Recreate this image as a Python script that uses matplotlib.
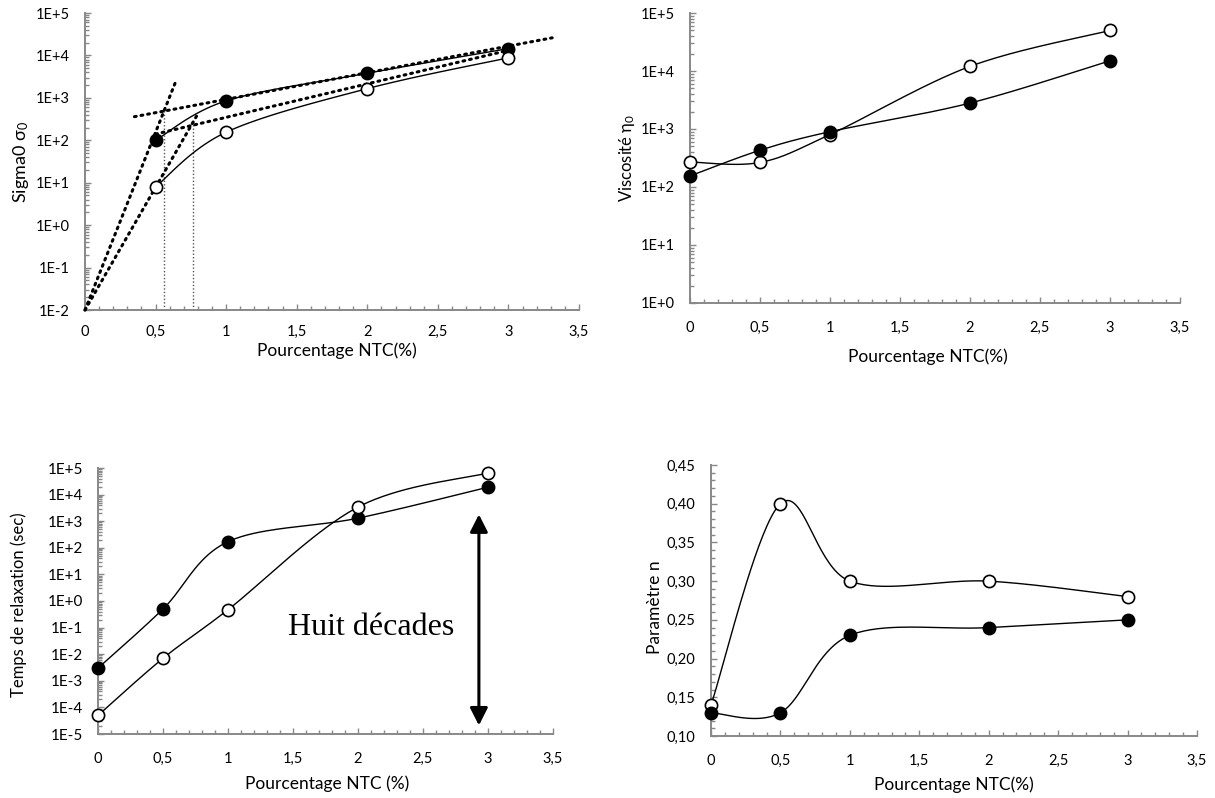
import numpy as np
import matplotlib
matplotlib.use("Agg")
import matplotlib.pyplot as plt
from matplotlib.ticker import FixedLocator, MultipleLocator, LogLocator, NullFormatter

plt.rcParams['font.family'] = ['Lato', 'DejaVu Sans']
plt.rcParams['mathtext.fontset'] = 'custom'
plt.rcParams['mathtext.rm'] = 'Lato'
plt.rcParams['mathtext.it'] = 'Lato'

# ---------------- data ----------------
x_ticks = [0, 0.5, 1, 1.5, 2, 2.5, 3, 3.5]
x_ticklabels = ["0", "0,5", "1", "1,5", "2", "2,5", "3", "3,5"]

# panel 1 : sigma0
sigma_x = [0.5, 1, 2, 3]
sigma_filled = [100, 850, 3800, 14500]
sigma_open = [8, 155, 1650, 8800]
guide_steep_filled_x = [0, 0.64]
guide_steep_filled_y = [0.01, 2300]
guide_steep_open_x = [0, 0.79]
guide_steep_open_y = [0.01, 370]
guide_flat_filled_x = [0.35, 3.31]
guide_flat_filled_y = [360, 26000]
guide_flat_open_x = [0.5, 2.97]
guide_flat_open_y = [140, 12500]
vline1_x = [0.56, 0.56]
vline1_y = [0.01, 600]
vline2_x = [0.765, 0.765]
vline2_y = [0.01, 300]
sigma_yticks = [1e-2, 1e-1, 1e0, 1e1, 1e2, 1e3, 1e4, 1e5]
sigma_yticklabels = ["1E-2", "1E-1", "1E+0", "1E+1", "1E+2", "1E+3", "1E+4", "1E+5"]

# panel 2 : viscosity
pct = [0, 0.5, 1, 2, 3]
visc_open = [270, 265, 800, 12000, 50000]
visc_filled = [155, 430, 900, 2800, 15000]
visc_yticks = [1e0, 1e1, 1e2, 1e3, 1e4, 1e5]
visc_yticklabels = ["1E+0", "1E+1", "1E+2", "1E+3", "1E+4", "1E+5"]

# panel 3 : relaxation time
tau_filled = [3e-3, 0.5, 170, 1300, 19000]
tau_open = [5e-5, 7e-3, 0.47, 3400, 65000]
tau_yticks = [1e-5, 1e-4, 1e-3, 1e-2, 1e-1, 1e0, 1e1, 1e2, 1e3, 1e4, 1e5]
tau_yticklabels = ["1E-5", "1E-4", "1E-3", "1E-2", "1E-1", "1E+0", "1E+1",
                   "1E+2", "1E+3", "1E+4", "1E+5"]
arrow_x = 2.93
arrow_y = [2.1e-5, 1.8e3]
arrow_text = "Huit décades"
arrow_text_pos = (2.1, 10 ** -1.0)

# panel 4 : parameter n
n_open = [0.14, 0.40, 0.30, 0.30, 0.28]
n_filled = [0.13, 0.13, 0.23, 0.24, 0.25]
n_yticks = [0.10, 0.15, 0.20, 0.25, 0.30, 0.35, 0.40, 0.45]
n_yticklabels = ["0,10", "0,15", "0,20", "0,25", "0,30", "0,35", "0,40", "0,45"]

# ---------------- figure ----------------
W, H = 1215, 798
fig = plt.figure(figsize=(W / 100, H / 100), dpi=100)


def px_axes(left, top, right, bottom):
    return fig.add_axes([left / W, 1 - bottom / H, (right - left) / W, (bottom - top) / H])


GRAY = "#888888"


def style(ax, log):
    for s in ("top", "right"):
        ax.spines[s].set_visible(False)
    for s in ("left", "bottom"):
        ax.spines[s].set_color(GRAY)
        ax.spines[s].set_linewidth(1.4)
    ax.set_xlim(0, 3.5)
    ax.xaxis.set_major_locator(FixedLocator(x_ticks))
    ax.set_xticklabels(x_ticklabels)
    ax.xaxis.set_minor_locator(MultipleLocator(0.1))
    ax.tick_params(which="both", direction="in", color=GRAY, labelsize=10.5, width=1.0)
    ax.tick_params(which="major", length=4.5)
    ax.tick_params(which="minor", length=3)
    ax.tick_params(axis="x", pad=13)
    ax.tick_params(axis="y", pad=11)
    if log:
        ax.yaxis.set_minor_locator(LogLocator(base=10, subs=np.arange(2, 10), numticks=30))
        ax.yaxis.set_minor_formatter(NullFormatter())


def smooth_plot(ax, x, y, **kw):
    pts = ax.transData.transform(np.column_stack([x, y]))
    n = len(pts)
    ext = np.vstack([pts[0], pts, pts[-1]])
    curve = []
    t = np.linspace(0, 1, 40)[:, None]
    for i in range(n - 1):
        p0 = ext[i + 1]
        p3 = ext[i + 2]
        c1 = p0 + (ext[i + 2] - ext[i]) / 6.0
        c2 = p3 - (ext[i + 3] - ext[i + 1]) / 6.0
        seg = ((1 - t) ** 3) * p0 + 3 * ((1 - t) ** 2) * t * c1 + 3 * (1 - t) * t ** 2 * c2 + t ** 3 * p3
        curve.append(seg)
    curve = np.vstack(curve)
    data = ax.transData.inverted().transform(curve)
    ax.plot(data[:, 0], data[:, 1], **kw)


line_kw = dict(color="black", lw=1.0, zorder=3)
mk_filled = dict(ls="none", marker="o", ms=8.8, mfc="black", mec="black", mew=1.2, zorder=5)
mk_open = dict(ls="none", marker="o", ms=8.8, mfc="white", mec="black", mew=1.2, zorder=5)
dot_kw = dict(color="black", lw=2.2, ls=(0, (0.6, 1.6)), dash_capstyle="round", zorder=4)
vdot_kw = dict(color="#555555", lw=1.0, ls=(0, (1, 1.5)), zorder=2)

XL = 12.5

# ---- panel 1
ax1 = px_axes(85, 13, 579, 310)
ax1.set_yscale("log")
ax1.set_ylim(1e-2, 1e5)
style(ax1, True)
ax1.tick_params(axis="x", pad=11)
ax1.yaxis.set_major_locator(FixedLocator(sigma_yticks))
ax1.set_yticklabels(sigma_yticklabels)
ax1.plot(vline1_x, vline1_y, **vdot_kw)
ax1.plot(vline2_x, vline2_y, **vdot_kw)
ax1.plot(guide_steep_filled_x, guide_steep_filled_y, **dot_kw)
ax1.plot(guide_steep_open_x, guide_steep_open_y, **dot_kw)
ax1.plot(guide_flat_filled_x, guide_flat_filled_y, **dot_kw)
ax1.plot(guide_flat_open_x, guide_flat_open_y, **dot_kw)
smooth_plot(ax1, sigma_x, sigma_filled, **line_kw)
smooth_plot(ax1, sigma_x, sigma_open, **line_kw)
ax1.plot(sigma_x, sigma_filled, **mk_filled)
ax1.plot(sigma_x, sigma_open, **mk_open)
for l in ax1.get_lines():
    l.set_clip_on(False)
ax1.set_ylabel("Sigma0 σ$_0$", fontsize=13)
ax1.yaxis.set_label_coords(-0.109, 0.5)
ax1.set_xlabel("Pourcentage NTC(%)", fontsize=XL)
ax1.xaxis.set_label_coords(0.51, -0.11)

# ---- panel 2
ax2 = px_axes(690, 13, 1180, 303)
ax2.set_yscale("log")
ax2.set_ylim(1e0, 1e5)
style(ax2, True)
ax2.yaxis.set_major_locator(FixedLocator(visc_yticks))
ax2.set_yticklabels(visc_yticklabels)
smooth_plot(ax2, pct, visc_open, **line_kw)
smooth_plot(ax2, pct, visc_filled, **line_kw)
ax2.plot(pct, visc_open, clip_on=False, **mk_open)
ax2.plot(pct, visc_filled, clip_on=False, **mk_filled)
ax2.set_ylabel("Viscosité η$_0$", fontsize=12)
ax2.yaxis.set_label_coords(-0.108, 0.5)
ax2.set_xlabel("Pourcentage NTC(%)", fontsize=XL)
ax2.xaxis.set_label_coords(0.486, -0.155)

# ---- panel 3
ax3 = px_axes(98, 468, 553, 734)
ax3.set_yscale("log")
ax3.set_ylim(1e-5, 1e5)
style(ax3, True)
ax3.yaxis.set_major_locator(FixedLocator(tau_yticks))
ax3.set_yticklabels(tau_yticklabels, fontsize=11)
smooth_plot(ax3, pct, tau_filled, **line_kw)
smooth_plot(ax3, pct, tau_open, **line_kw)
ax3.plot(pct, tau_filled, clip_on=False, **mk_filled)
ax3.plot(pct, tau_open, clip_on=False, **mk_open)
ax3.annotate("", xy=(arrow_x, arrow_y[1]), xytext=(arrow_x, arrow_y[0]),
             arrowprops=dict(arrowstyle="<|-|>,head_length=0.75,head_width=0.38",
                             color="black", lw=2.2, shrinkA=0, shrinkB=0,
                             mutation_scale=14))
ax3.text(arrow_text_pos[0], arrow_text_pos[1], arrow_text, fontsize=23,
         family="Liberation Serif", ha="center", va="center")
ax3.set_ylabel("Temps de relaxation (sec)", fontsize=12)
ax3.yaxis.set_label_coords(-0.156, 0.485)
ax3.set_xlabel("Pourcentage NTC (%)", fontsize=XL)
ax3.xaxis.set_label_coords(0.503, -0.154)

# ---- panel 4
ax4 = px_axes(711, 465, 1197, 736)
ax4.set_ylim(0.10, 0.45)
style(ax4, False)
ax4.yaxis.set_major_locator(FixedLocator(n_yticks))
ax4.set_yticklabels(n_yticklabels)
ax4.yaxis.set_minor_locator(MultipleLocator(0.01))
smooth_plot(ax4, pct, n_open, **line_kw)
smooth_plot(ax4, pct, n_filled, **line_kw)
ax4.plot(pct, n_open, clip_on=False, **mk_open)
ax4.plot(pct, n_filled, clip_on=False, **mk_filled)
ax4.set_ylabel("Paramètre n", fontsize=12.5)
ax4.yaxis.set_label_coords(-0.099, 0.476)
ax4.set_xlabel("Pourcentage NTC(%)", fontsize=XL)
ax4.xaxis.set_label_coords(0.5, -0.151)

fig.savefig("out.png", dpi=100)
